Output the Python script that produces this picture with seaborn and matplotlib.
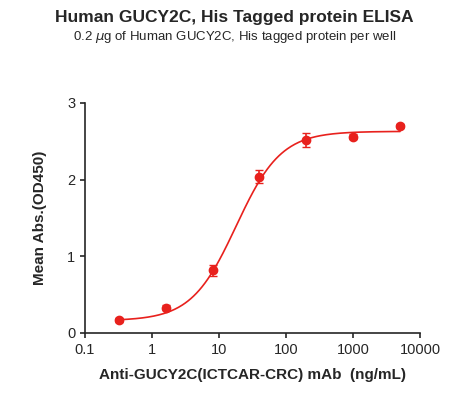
import numpy as np
import matplotlib
matplotlib.use("Agg")
import matplotlib.pyplot as plt
import seaborn as sns

conc = [0.32, 1.6, 8, 40, 200, 1000, 5000]
od = [0.17, 0.33, 0.82, 2.04, 2.52, 2.56, 2.70]
err = [0.02, 0.03, 0.07, 0.08, 0.09, 0.03, 0.03]
# 4PL fit parameters (bottom, top, EC50, hill)
fit_bottom, fit_top, fit_ec50, fit_hill = 0.16, 2.63, 18.0, 1.3

sns.set_style("ticks")
plt.rcParams['font.family'] = ['Liberation Sans', 'DejaVu Sans']
fig = plt.figure(figsize=(4.69, 4.0), dpi=100)
ax = fig.add_axes([0.181, 0.1675, 0.715, 0.575])
red = "#e8211d"
xs = np.logspace(np.log10(0.3), np.log10(5000), 300)
ys = fit_bottom + (fit_top - fit_bottom) / (1 + (fit_ec50 / xs) ** fit_hill)
sns.lineplot(x=xs, y=ys, ax=ax, color=red, lw=1.2)
ax.errorbar(conc, od, yerr=err, fmt='o', color=red, ms=6, capsize=3, elinewidth=1.2)
ax.set_xscale('log')
ax.set_xlim(0.1, 10000)
ax.set_ylim(0, 3)
ax.set_yticks([0, 1, 2, 3])
ax.set_xticks([0.1, 1, 10, 100, 1000, 10000])
ax.set_xticklabels(['0.1', '1', '10', '100', '1000', '10000'])
ax.minorticks_off()
sns.despine(ax=ax)
for s in ax.spines.values():
    s.set_linewidth(1.2)
ax.tick_params(labelsize=10.5, width=1.2)
ax.set_xlabel('Anti-GUCY2C(ICTCAR-CRC) mAb  (ng/mL)', fontsize=11, fontweight='bold', labelpad=8)
ax.set_ylabel('Mean Abs.(OD450)', fontsize=11, fontweight='bold', labelpad=14)
fig.text(0.5, 0.945, 'Human GUCY2C, His Tagged protein ELISA', ha='center', fontsize=12.5, fontweight='bold')
fig.text(0.5, 0.9, '0.2 $\\mu$g of Human GUCY2C, His tagged protein per well', ha='center', fontsize=9.5)
fig.savefig('out.png', dpi=100)
